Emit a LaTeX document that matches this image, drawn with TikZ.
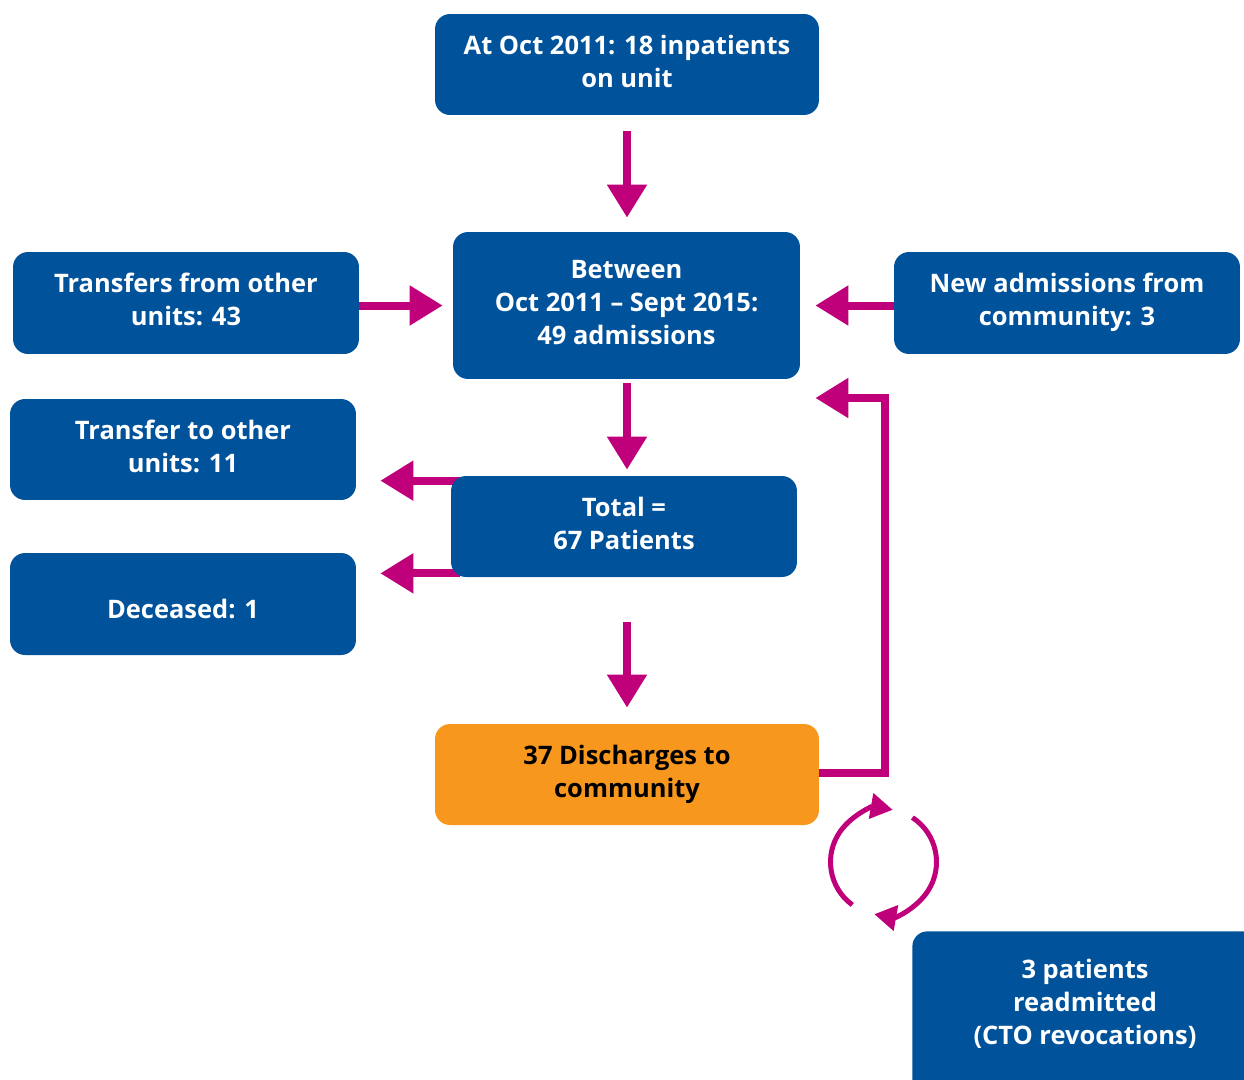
\documentclass[tikz,border=0pt]{standalone}
\usepackage{fontspec}
\setmainfont{Open Sans}
\usetikzlibrary{arrows.meta,backgrounds}
\definecolor{nhsblue}{RGB}{0,82,155}
\definecolor{mag}{RGB}{192,0,122}
\definecolor{orng}{RGB}{247,151,30}
\newcommand\mystrut{\rule[-4pt]{0pt}{24pt}}
\begin{document}
\begin{tikzpicture}[x=0.02cm,y=-0.02cm,
  txt/.style={text=white,align=center,font=\fontsize{14.5pt}{18.8pt}\selectfont\bfseries,inner sep=0pt,
    execute at begin node=\mystrut,execute at end node=\mystrut},
  box/.style={txt,draw=none,fill=nhsblue,rounded corners=0.3cm},
  obox/.style={box,fill=orng,text=black},
  arr/.style={draw=mag,line width=0.16cm,-{Triangle[length=0.66cm,width=0.76cm]}},
  carr/.style={draw=mag,line width=0.1cm,-{Triangle[length=0.44cm,width=0.5cm]}}]
\useasboundingbox (0,0) rectangle (1244,1079);
\node[box,minimum width=7.68cm,minimum height=2.02cm] (a) at (627,64.5) {At Oct 2011: 18 inpatients\\on unit};
\node[box,minimum width=6.94cm,minimum height=2.94cm] (b) at (626.5,305.5) {Between\\Oct 2011 -- Sept 2015:\\49 admissions};
\node[box,minimum width=6.92cm,minimum height=2.04cm] (tf) at (186,303) {Transfers from other\\units: 43};
\node[box,minimum width=6.92cm,minimum height=2.04cm] (na) at (1067,303) {New admissions from\\community: 3};
\node[box,minimum width=6.92cm,minimum height=2.02cm] (tt) at (183,449.5) {Transfer to other\\units: 11};
\node[box,minimum width=6.92cm,minimum height=2.02cm] (tot) at (624,526.5) {Total =\\67 Patients};
\node[box,minimum width=6.92cm,minimum height=2.04cm] (dec) at (183,604) {Deceased: 1};
\node[obox,minimum width=7.68cm,minimum height=2.02cm] (dis) at (627,774.5) {37 Discharges to\\community};
\node[box,minimum width=6.9cm,minimum height=3.6cm,anchor=north west] (re) at (912,931) {};
\node[txt] (retext) at (1085,1005) {3 patients\\readmitted\\(CTO revocations)};
\coordinate (loopc) at (885,398);
\coordinate (cc) at (883.5,862);
\begin{scope}[on background layer]
\draw[arr,shorten <=0.32cm,shorten >=0.28cm] (a.south) -- (a.south |- b.north);
\draw[arr,shorten >=0.2cm] (tf.east |- b.west) -- (b.west);
\draw[arr,shorten >=0.3cm] (na.west |- b.east) -- (b.east);
\draw[arr,shorten <=0.08cm,shorten >=0.12cm] (a.south |- b.south) -- (a.south |- tot.north);
\draw[arr,shorten <=-0.18cm,shorten >=0.48cm] ([yshift=-0.1cm]tot.north west) -- ([yshift=-0.1cm]tot.north west -| tt.east);
\draw[arr,shorten <=-0.18cm,shorten >=0.48cm] ([yshift=0.08cm]tot.south west) -- ([yshift=0.08cm]tot.south west -| dec.east);
\draw[arr,shorten <=0.9cm,shorten >=0.32cm] (dis.north |- tot.south) -- (dis.north);
\draw[arr,line join=miter,shorten >=0.3cm] ([yshift=0.03cm]dis.east) -| (loopc) -- (loopc -| b.east);
\end{scope}
\begin{scope}[shift={(cc)},x=0.02cm,y=0.02cm]
\draw[carr] (234:53) arc[start angle=234,end angle=80,radius=53];
\draw[carr] (57:53) arc[start angle=57,end angle=-100,radius=53];
\end{scope}
\end{tikzpicture}
\end{document}
